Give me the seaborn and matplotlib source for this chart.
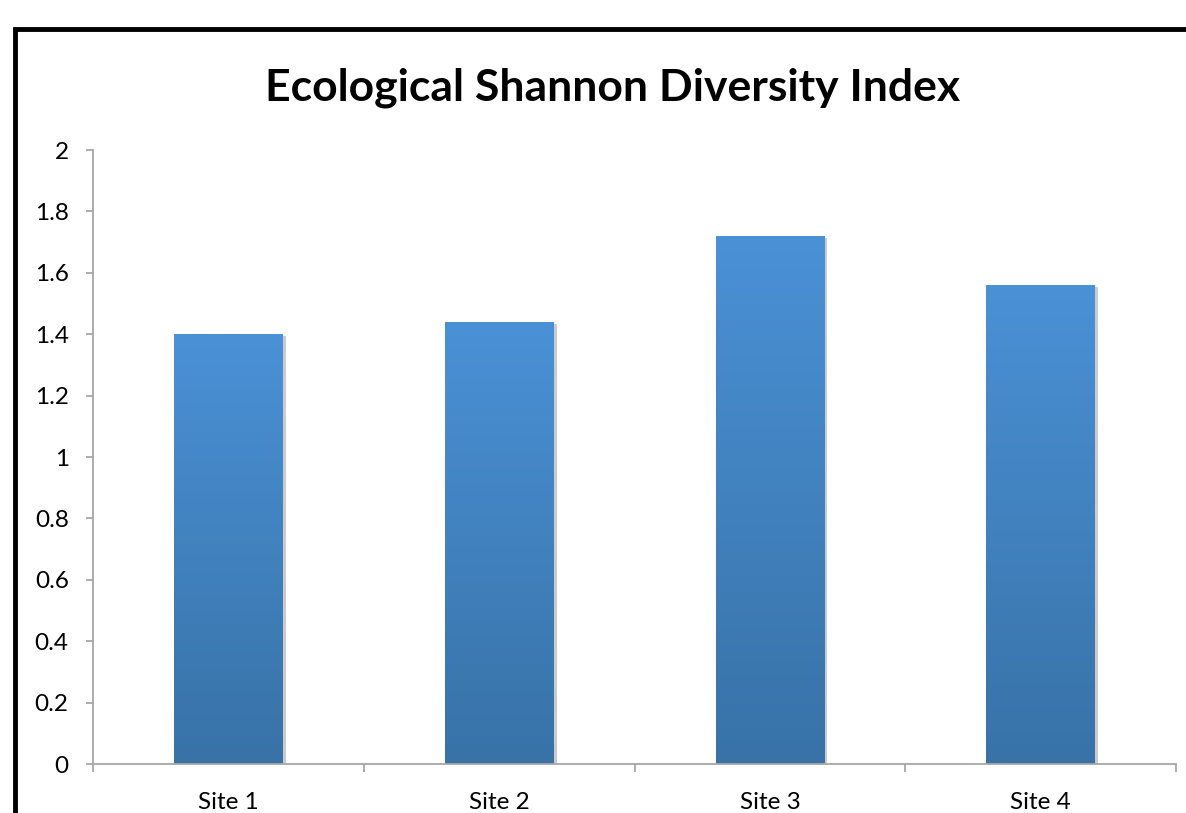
import numpy as np
import pandas as pd
import matplotlib
matplotlib.use("Agg")
import matplotlib.pyplot as plt
import matplotlib.patheffects as pe
import seaborn as sns
from matplotlib.patches import Rectangle
from matplotlib.colors import LinearSegmentedColormap

sites = ["Site 1", "Site 2", "Site 3", "Site 4"]
diversity = [1.40, 1.44, 1.72, 1.56]
yticks = [0, 0.2, 0.4, 0.6, 0.8, 1, 1.2, 1.4, 1.6, 1.8, 2]
ytick_labels = ["0", "0.2", "0.4", "0.6", "0.8", "1", "1.2", "1.4", "1.6", "1.8", "2"]

df = pd.DataFrame({"site": sites, "H": diversity})

sns.set_style("white")
plt.rcParams["font.family"] = ["Lato", "DejaVu Sans"]
plt.rcParams["text.color"] = "black"

W, H = 1186, 813
fig = plt.figure(figsize=(W / 100, H / 100), dpi=100)
ax = fig.add_axes([93 / W, 1 - 764 / H, (1176 - 93) / W, (764 - 150) / H])

sns.barplot(data=df, x="site", y="H", ax=ax, color="#4a90d5", width=0.4,
            saturation=1, edgecolor="none")

# vertical gradient inside each bar
grad_cmap = LinearSegmentedColormap.from_list("g", ["#3872a7", "#4a91d6"])
grad = np.linspace(0, 1, 256).reshape(-1, 1)
for p in ax.patches:
    x0, y0, w, h = p.get_x(), p.get_y(), p.get_width(), p.get_height()
    p.set_path_effects([pe.SimplePatchShadow(offset=(2.5, -1.5), shadow_rgbFace="#555555", alpha=0.3),
                        pe.Normal()])
    im = ax.imshow(grad, cmap=grad_cmap, origin="lower", aspect="auto",
                   extent=(x0, x0 + w, y0, y0 + h), zorder=p.get_zorder() + 0.1)
    im.set_clip_path(p)

ax.set_xlim(-0.5, 3.5)
ax.set_ylim(0, 2)
ax.set_yticks(yticks)
ax.set_yticklabels(ytick_labels)
ax.set_xlabel("")
ax.set_ylabel("")

for s in ["top", "right"]:
    ax.spines[s].set_visible(False)
for s in ["left", "bottom"]:
    ax.spines[s].set_color("#a6a6a6")
    ax.spines[s].set_linewidth(1.3)

ax.tick_params(axis="y", which="major", left=True, length=5, width=1.3, color="#a6a6a6",
               labelsize=17.5, pad=12.5, labelcolor="black")
ax.tick_params(axis="x", which="major", bottom=False, labelsize=17.5, pad=17, labelcolor="black")
ax.set_xticks([0, 1, 2, 3])
ax.set_xticklabels(sites)
ax.set_xticks([-0.5, 0.5, 1.5, 2.5, 3.5], minor=True)
ax.tick_params(axis="x", which="minor", bottom=True, length=6, width=1.3, color="#a6a6a6")

fig.text(613 / W, 1 - 88 / H, "Ecological Shannon Diversity Index", ha="center", va="center",
         fontsize=32, fontweight="bold", color="black")

# chart frame (runs off the right and bottom edges)
fig.add_artist(Rectangle((15 / W, -0.2), 1.5, 1 - 29 / H + 0.2, transform=fig.transFigure,
                         fill=False, edgecolor="black", linewidth=3.5, clip_on=False))

fig.savefig("out.png", dpi=100)
